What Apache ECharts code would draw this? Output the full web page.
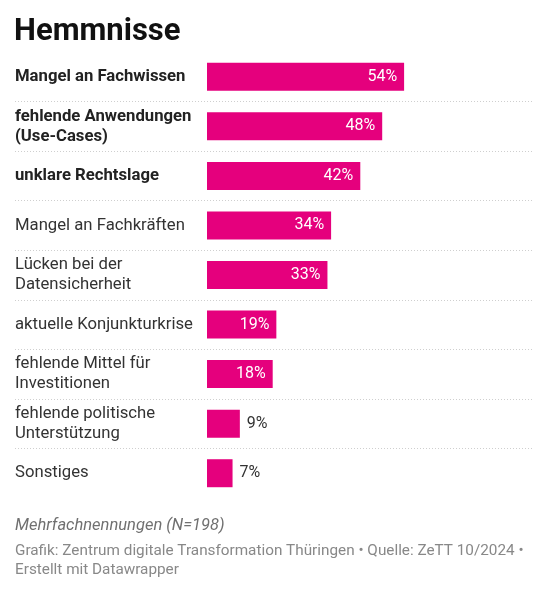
<!DOCTYPE html>
<html>
<head>
<meta charset="utf-8">
<script src="https://cdn.jsdelivr.net/npm/echarts@6/dist/echarts.min.js"></script>
<style>
  html, body { margin: 0; padding: 0; background: #fff; }
  #chart { width: 535px; height: 593px; }
</style>
</head>
<body>
<div id="chart"></div>
<script>
// data
var categories = [
  'Mangel an Fachwissen',
  'fehlende Anwendungen\n(Use-Cases)',
  'unklare Rechtslage',
  'Mangel an Fachkräften',
  'Lücken bei der\nDatensicherheit',
  'aktuelle Konjunkturkrise',
  'fehlende Mittel für\nInvestitionen',
  'fehlende politische\nUnterstützung',
  'Sonstiges'
];
var values = [54, 48, 42, 34, 33, 19, 18, 9, 7];
var highlighted = ['Mangel an Fachwissen', 'fehlende Anwendungen\n(Use-Cases)', 'unklare Rechtslage'];

var titleText = 'Hemmnisse';
var noteText = 'Mehrfachnennungen (N=198)';
var sourceText = 'Grafik: Zentrum digitale Transformation Thüringen • Quelle: ZeTT 10/2024 •\nErstellt mit Datawrapper';

var font = 'Roboto, "Noto Sans", sans-serif';
var pink = '#e5007d';

var chart = echarts.init(document.getElementById('chart'), null, { renderer: 'canvas' });

var gridTop = 52, gridBottom = 95;

var option = {
  backgroundColor: '#fff',
  textStyle: { fontFamily: font },
  title: [
    {
      text: titleText, left: 14, top: 13, padding: 0,
      textStyle: { fontSize: 31, fontWeight: 'bold', color: '#111', fontFamily: font, lineHeight: 38 }
    },
    {
      text: noteText, left: 15, top: 515, padding: 0,
      textStyle: { fontSize: 16.5, fontStyle: 'italic', fontWeight: 'normal', color: '#707070', fontFamily: font, lineHeight: 22 }
    },
    {
      text: sourceText, left: 15, top: 542, padding: 0,
      textStyle: { fontSize: 15.3, fontWeight: 'normal', color: '#888', fontFamily: font, lineHeight: 19 }
    }
  ],
  grid: [
    { left: 15, right: 2, top: gridTop, bottom: gridBottom },
    { left: 207, right: 36, top: gridTop, bottom: gridBottom }
  ],
  xAxis: [
    { gridIndex: 0, type: 'value', show: false, min: 0, max: 1 },
    { gridIndex: 1, type: 'value', show: false, min: 0, max: 80 }
  ],
  yAxis: [
    {
      gridIndex: 0, type: 'category', data: categories, inverse: true,
      axisLine: { show: false }, axisTick: { show: false },
      axisLabel: {
        inside: true, margin: 0, align: 'left',
        fontSize: 16.7, color: '#333', lineHeight: 20, fontFamily: font,
        formatter: function (v) {
          var key = highlighted.indexOf(v) >= 0 ? 'b' : 'n';
          return v.split('\n').map(function (l) { return '{' + key + '|' + l + '}'; }).join('\n');
        },
        rich: {
          b: { fontSize: 16.7, fontWeight: 'bold', color: '#222', lineHeight: 20, fontFamily: font },
          n: { fontSize: 16.7, fontWeight: 'normal', color: '#333', lineHeight: 20, fontFamily: font }
        }
      },
      splitLine: {
        show: true, showMinLine: false, showMaxLine: false,
        lineStyle: { color: '#cfcfcf', width: 1, type: [1, 2] }
      }
    },
    {
      gridIndex: 1, type: 'category', data: categories, inverse: true, show: false
    }
  ],
  series: [
    {
      type: 'bar',
      xAxisIndex: 1, yAxisIndex: 1,
      barWidth: 28,
      silent: true,
      itemStyle: { color: pink },
      data: values.map(function (v) {
        return {
          value: v,
          label: v < 10
            ? { position: 'right', distance: 7, color: '#333' }
            : { position: 'insideRight', distance: 7, color: '#fff' }
        };
      }),
      label: {
        show: true, fontSize: 16, fontFamily: font,
        formatter: function (p) { return p.value + '%'; }
      }
    }
  ]
};

chart.setOption(option);
</script>
</body>
</html>
